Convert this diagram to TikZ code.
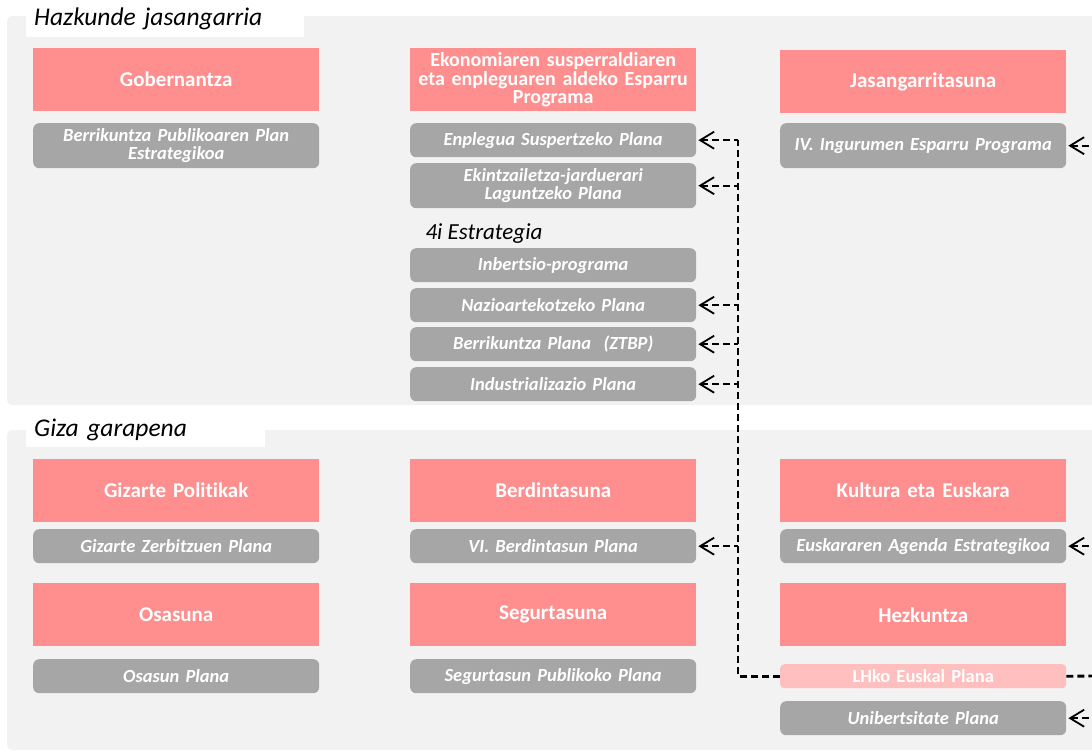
\documentclass[tikz,border=0pt]{standalone}
\usepackage{fontspec}
\setmainfont{Carlito}[Ligatures=NoCommon]
\usetikzlibrary{arrows.meta,positioning}

\definecolor{areared}{HTML}{FF8F8F}
\definecolor{planpink}{HTML}{FFBFBF}
\definecolor{plangrey}{HTML}{A6A6A6}
\definecolor{panelgrey}{HTML}{F2F2F2}

\begin{document}
\begin{tikzpicture}[x=1pt,y=-1pt]
        \tikzstyle{area}=[rectangle, anchor=north west, fill=areared, text=white, minimum width=286pt, minimum height=63pt, inner sep=0pt, text width=282pt, align=center, font=\fontsize{21}{18.5}\selectfont\bfseries]
        \tikzstyle{plan}=[rectangle, anchor=north west, rounded corners=6pt, fill=plangrey, text=white, minimum width=286pt, minimum height=34pt, inner sep=0pt, text width=282pt, align=center, font=\fontsize{18.5}{18}\selectfont\bfseries\itshape]
        \tikzstyle{tall plan}=[plan, minimum height=45pt]
        \tikzstyle{side plan}=[plan, fill=planpink, minimum height=24pt, rounded corners=4pt, font=\fontsize{18.5}{18}\selectfont\bfseries]
        \tikzstyle{tab}=[rectangle, anchor=north west, fill=white, inner xsep=8pt, inner ysep=0pt, align=left, font=\fontsize{25.5}{25}\selectfont\itshape]
        \tikzstyle{link}=[draw=black, line width=2.4pt, dash pattern=on 7pt off 4pt, {Straight Barb[length=14pt,width=17pt,line width=1.8pt]}-]
        \tikzstyle{bus}=[draw=black, line width=2.8pt, dash pattern=on 7pt off 4pt]

        \clip (0,0) rectangle (1092,753);
        \fill[white] (0,0) rectangle (1092,753);

        % Panels
        \fill[panelgrey, rounded corners=5pt] (7,16) rectangle (1110,405);
        \fill[panelgrey, rounded corners=5pt] (7,430) rectangle (1110,750);
        \node[tab, text width=262pt, minimum height=37pt] (hj) at (26,0) {Hazkunde jasangarria};
        \node[tab, text width=223pt, minimum height=34pt] (gg) at (26,413) {Giza garapena};

        % Hazkunde jasangarria: areas
        \node[area] (gob) at (33,48) {Gobernantza};
        \node[area, text width=286pt, font=\fontsize{20}{18.5}\selectfont\bfseries] (eko) at (410,48)
            {Ekonomiaren susperraldiaren\\eta enpleguaren aldeko Esparru\\Programa};
        \node[area] (jas) at (780,50) {Jasangarritasuna};

        % Hazkunde jasangarria: plans
        \node[tall plan] (bpp) at (33,123) {Berrikuntza Publikoaren Plan\\Estrategikoa};
        \node[plan] (esp) at (410,123) {Enplegua Suspertzeko Plana};
        \node[tall plan] (ekp) at (410,163) {Ekintzailetza-jarduerari\\Laguntzeko Plana};
        \node[tall plan] (ing) at (780,123) {IV. Ingurumen Esparru Programa};

        \node[anchor=west, font=\fontsize{23}{23}\selectfont\itshape] (lau) at (422,234) {4i Estrategia};
        \foreach \name/\y/\txt in {inb/248/Inbertsio-programa, naz/288/Nazioartekotzeko Plana,
                                   ber/327/{Berrikuntza Plana~~(ZTBP)}, ind/367/Industrializazio Plana}
            \node[plan] (\name) at (410,\y) {\txt};

        % Giza garapena: areas
        \foreach \name/\x/\txt in {giz/33/Gizarte Politikak, bdt/410/Berdintasuna, kul/780/Kultura eta Euskara}
            \node[area] (\name) at (\x,459) {\txt};
        \foreach \name/\x/\txt in {osa/33/Osasuna, seg/410/Segurtasuna, hez/780/Hezkuntza}
            \node[area] (\name) at (\x,583) {\txt};

        % Giza garapena: plans
        \foreach \name/\x/\txt in {gzp/33/Gizarte Zerbitzuen Plana, vib/410/VI. Berdintasun Plana, eus/780/Euskararen Agenda Estrategikoa}
            \node[plan] (\name) at (\x,529) {\txt};
        \node[plan] (osp) at (33,659) {Osasun Plana};
        \node[plan] (spp) at (410,659) {Segurtasun Publikoko Plana};
        \node[side plan] (lhk) at (780,664) {LHko Euskal Plana};
        \node[plan] (uni) at (780,701) {Unibertsitate Plana};

        % Links from LHko Euskal Plana
        \coordinate (bus-top) at (738,140);
        \coordinate (bus-right) at (1100,676);
        \draw[bus] (lhk.west) -| (bus-top);
        \draw[bus] (lhk.east) -- (bus-right);
        \foreach \dest in {esp,ekp,naz,ber,ind,vib}
            \draw[link, shorten <=2pt] (\dest.east) -- (bus-top |- \dest.east);
        \foreach \dest in {ing,eus,uni}
            \draw[link, shorten <=2pt] (\dest.east) -- (bus-right |- \dest.east);
\end{tikzpicture}
\end{document}
